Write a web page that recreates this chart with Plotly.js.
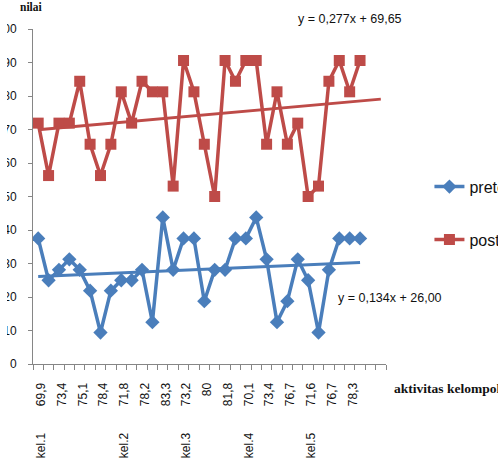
<!DOCTYPE html>
<html>
<head>
<meta charset="utf-8">
<script src="https://cdn.plot.ly/plotly-3.0.1.min.js"></script>
<style>
html,body{margin:0;padding:0;background:#fff;}
#wrap{position:absolute;left:0;top:0;width:498px;height:461px;overflow:hidden;}
#chart{position:absolute;left:-7px;top:0;width:505px;height:461px;}
#edge{position:absolute;left:0;top:0;width:7px;height:461px;background:#fff;}
</style>
</head>
<body>
<div id="wrap"><div id="chart"></div><div id="edge"></div></div>
<script>
// category count (two trailing empty categories)
const categoryCount = 34;
// visible tick labels (every second category): group name and value
const tickGroups = ['kel.1','','','','kel.2','','','kel.3','','','kel.4','','','kel.5','',''];
const tickValues = ['69,9','73,4','75,1','78,4','71,8','78,2','83,3','73,2','80','81,8','70,1','73,4','76,7','71,6','76,7','78,3'];
const pretest = [37.5,25,28.1,31.25,28.1,21.9,9.4,21.9,25,25,28.1,12.5,43.75,28.1,37.5,37.5,18.75,28.1,28.1,37.5,37.5,43.75,31.25,12.5,18.75,31.25,25,9.4,28.1,37.5,37.5,37.5];
const posttest = [71.9,56.25,71.9,71.9,84.4,65.6,56.25,65.6,81.25,71.9,84.4,81.25,81.25,53.1,90.6,81.25,65.6,50,90.6,84.4,90.6,90.6,65.6,81.25,65.6,71.9,50,53.1,84.4,90.6,81.25,90.6];
// trendline equations shown on chart
const preTrend = {slope:0.134, intercept:26.00, xStart:1, xEnd:32};
const postTrend = {slope:0.277, intercept:69.65, xStart:1, xEnd:34};
const preEqText = 'y = 0,134x + 26,00';
const postEqText = 'y = 0,277x + 69,65';

const blue = '#4a7ebb', red = '#be4b48', axisGray = '#868686';
const xs = pretest.map((_, i) => i + 1);
const tickVals = tickValues.map((_, i) => 2 * i + 1);
const GAP = '\u00a0'.repeat(8);
const tickText = tickValues.map((v, i) => tickGroups[i] ? tickGroups[i] + GAP + v : v);
function trend(t){
  return {x:[t.xStart, t.xEnd], y:[t.slope*t.xStart + t.intercept, t.slope*t.xEnd + t.intercept]};
}
const tp = trend(preTrend), tq = trend(postTrend);

const traces = [
  {x: xs, y: pretest, name: 'pretest', type: 'scatter', mode: 'lines+markers',
   line: {color: blue, width: 3.5}, marker: {symbol: 'diamond', size: 11, color: blue}, legend: 'legend'},
  {x: xs, y: posttest, name: 'posttest', type: 'scatter', mode: 'lines+markers',
   line: {color: red, width: 3.5}, marker: {symbol: 'square', size: 11, color: red}, legend: 'legend2'},
  {x: tp.x, y: tp.y, mode: 'lines', line: {color: blue, width: 3}, showlegend: false},
  {x: tq.x, y: tq.y, mode: 'lines', line: {color: red, width: 3}, showlegend: false}
];

// plot area in chart-div pixels: left 40, right 393.5, top 29.3, bottom 364.3
const PL = 40, PW = 353.5, PT = 29.3, PH = 335;
const px = v => (v - PL) / PW;          // div x -> paper x
const py = v => (PT + PH - v) / PH;     // div y -> paper y

const legFont = {size: 16, family: 'Liberation Sans, Arial, sans-serif', color: '#111'};
const layout = {
  width: 505, height: 461,
  margin: {l: 40, r: 111.5, t: 29.3, b: 96.7, autoexpand: false},
  paper_bgcolor: '#fff', plot_bgcolor: '#fff',
  font: {family: 'Liberation Sans, Arial, sans-serif', size: 12, color: '#111'},
  showlegend: true,
  xaxis: {
    type: 'linear', range: [0.5, categoryCount + 0.5],
    tickmode: 'array', tickvals: tickVals, ticktext: tickText,
    tickangle: -90, ticks: '', ticklabelstandoff: 13, ticklabelshift: 3,
    showline: true, linecolor: axisGray, linewidth: 1,
    showgrid: false, zeroline: false,
    minor: {ticks: 'outside', ticklen: 5, tick0: 0.5, dtick: 1, tickcolor: axisGray, showgrid: false},
    tickfont: {size: 12, family: 'Liberation Sans, Arial, sans-serif', color: '#111'}
  },
  yaxis: {
    range: [0, 100], dtick: 10, ticks: 'outside', ticklen: 4, tickcolor: axisGray,
    ticklabelstandoff: 9,
    showline: true, linecolor: axisGray, linewidth: 1,
    showgrid: false, zeroline: false, tickfont: {size: 12, color: '#111'}
  },
  legend: {x: px(437), xanchor: 'left', y: py(187), yanchor: 'middle', font: legFont, bgcolor: 'rgba(0,0,0,0)', itemwidth: 30},
  legend2: {x: px(437), xanchor: 'left', y: py(240), yanchor: 'middle', font: legFont, bgcolor: 'rgba(0,0,0,0)', itemwidth: 30},
  annotations: [
    {text: postEqText, xref: 'paper', yref: 'paper', x: px(303), y: py(19), xanchor: 'left', yanchor: 'middle', showarrow: false, font: {size: 12.5, color: '#111'}},
    {text: preEqText, xref: 'paper', yref: 'paper', x: px(343), y: py(298), xanchor: 'left', yanchor: 'middle', showarrow: false, font: {size: 12.5, color: '#111'}},
    {text: '<b>nilai</b>', xref: 'paper', yref: 'paper', x: px(25), y: py(7), xanchor: 'left', yanchor: 'middle', showarrow: false, font: {size: 11.5, family: 'Liberation Serif, Times New Roman, serif', color: '#111'}},
    {text: '<b>aktivitas kelompok</b>', xref: 'paper', yref: 'paper', x: px(400), y: py(389), xanchor: 'left', yanchor: 'middle', showarrow: false, font: {size: 13.5, family: 'Liberation Serif, Times New Roman, serif', color: '#111'}}
  ]
};

Plotly.newPlot('chart', traces, layout, {displayModeBar: false, staticPlot: true});
</script>
</body>
</html>
